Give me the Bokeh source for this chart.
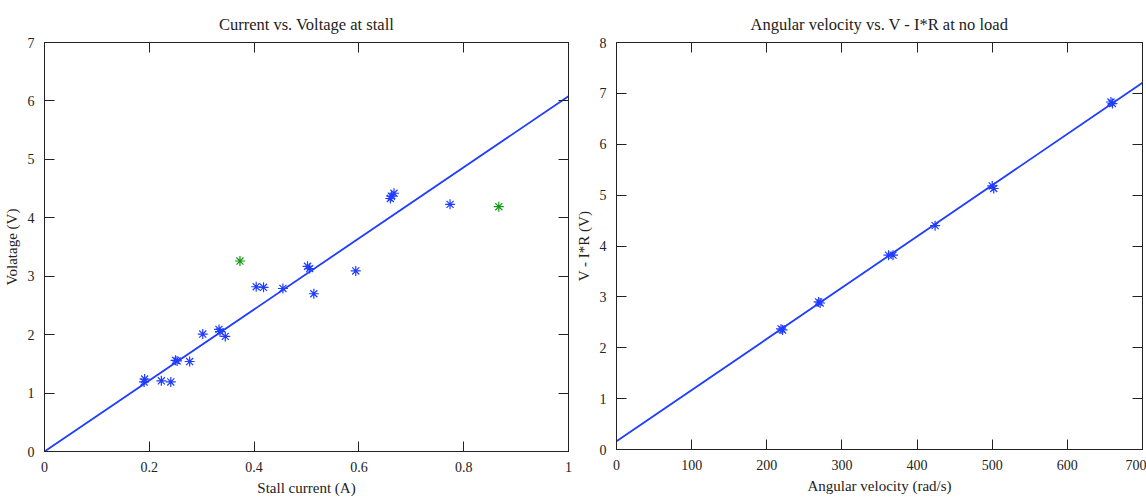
from bokeh.plotting import figure
from bokeh.layouts import row
from bokeh.models import LinearAxis, SingleIntervalTicker, CustomJSTickFormatter, Range1d
from bokeh.embed import file_html
from bokeh.resources import INLINE
import numpy as np

# ---- Data: left chart (stall) ----
stall_current_blue = [0.190, 0.191, 0.223, 0.241, 0.250, 0.253, 0.277, 0.302, 0.333, 0.335,
                      0.345, 0.404, 0.418, 0.455, 0.502, 0.506, 0.514, 0.594, 0.660, 0.662,
                      0.667, 0.774]
stall_voltage_blue = [1.19, 1.24, 1.21, 1.19, 1.56, 1.55, 1.54, 2.01, 2.09, 2.05,
                      1.97, 2.82, 2.81, 2.79, 3.17, 3.13, 2.70, 3.09, 4.33, 4.37,
                      4.42, 4.23]
stall_current_green = [0.373, 0.867]
stall_voltage_green = [3.26, 4.19]
stall_fit_slope = 6.08
stall_fit_intercept = 0.0

# ---- Data: right chart (no load) ----
ang_velocity = [219, 221, 269, 271, 362, 368, 424, 500, 502, 658, 660]
v_minus_ir = [2.37, 2.35, 2.90, 2.88, 3.82, 3.82, 4.40, 5.18, 5.13, 6.83, 6.80]
noload_fit_slope = 0.01007
noload_fit_intercept = 0.16

FONT = "Liberation Serif"
TXT = "#222222"
BLUE = "#1f3cff"
GREEN = "#129a12"

fmt = CustomJSTickFormatter(code="return (Math.round(tick*10)/10).toString();")
blank_fmt = CustomJSTickFormatter(code="return '';")


def style(p, xint, yint):
    p.title.text_font = FONT
    p.title.text_font_style = "normal"
    p.title.text_font_size = "16.5px"
    p.title.align = "center"
    p.title.text_color = TXT
    p.outline_line_color = "#222222"
    p.grid.visible = False
    p.background_fill_color = "white"
    p.border_fill_color = "white"
    for ax in p.xaxis:
        ax.ticker = SingleIntervalTicker(interval=xint)
        ax.formatter = fmt
    for ax in p.yaxis:
        ax.ticker = SingleIntervalTicker(interval=yint)
        ax.formatter = fmt
    ax2x = LinearAxis(ticker=SingleIntervalTicker(interval=xint), formatter=blank_fmt)
    ax2y = LinearAxis(ticker=SingleIntervalTicker(interval=yint), formatter=blank_fmt)
    p.add_layout(ax2x, "above")
    p.add_layout(ax2y, "right")
    for ax in p.axis:
        ax.axis_line_color = "#222222"
        ax.major_tick_line_color = "#222222"
        ax.major_tick_in = 10
        ax.major_tick_out = 0
        ax.minor_tick_line_color = None
        ax.major_label_text_font = FONT
        ax.major_label_text_font_size = "14px"
        ax.major_label_text_color = TXT
        ax.major_label_standoff = 6
        ax.axis_label_text_font = FONT
        ax.axis_label_text_font_size = "15px"
        ax.axis_label_text_font_style = "normal"
        ax.axis_label_text_color = TXT
        ax.axis_label_standoff = 5
    for ax in (ax2x, ax2y):
        ax.major_label_text_color = None
        ax.major_label_standoff = 0


# ---- Left figure ----
p1 = figure(width=572, height=498, output_backend="svg", toolbar_location=None,
            title="Current vs. Voltage at stall",
            x_range=Range1d(0, 1), y_range=Range1d(0, 7),
            min_border_left=38, min_border_right=4, min_border_top=42, min_border_bottom=47)
p1.xaxis.axis_label = "Stall current (A)"
p1.yaxis.axis_label = "Volatage (V)"
style(p1, 0.2, 1)
xs1 = np.array([0.0, 1.0])
p1.line(xs1, stall_fit_slope * xs1 + stall_fit_intercept, line_color=BLUE, line_width=1.8)
p1.scatter(stall_current_blue, stall_voltage_blue, marker="asterisk", size=10,
           line_color=BLUE, line_width=1.2)
p1.scatter(stall_current_green, stall_voltage_green, marker="asterisk", size=10,
           line_color=GREEN, line_width=1.2)

# ---- Right figure ----
p2 = figure(width=574, height=496, output_backend="svg", toolbar_location=None,
            title="Angular velocity vs. V - I*R at no load",
            x_range=Range1d(0, 700), y_range=Range1d(0, 8),
            min_border_left=37, min_border_right=2, min_border_top=40, min_border_bottom=47)
p2.xaxis.axis_label = "Angular velocity (rad/s)"
p2.yaxis.axis_label = "V - I*R (V)"
style(p2, 100, 1)
xs2 = np.array([0.0, 700.0])
p2.line(xs2, noload_fit_slope * xs2 + noload_fit_intercept, line_color=BLUE, line_width=1.8)
p2.scatter(ang_velocity, v_minus_ir, marker="asterisk", size=10,
           line_color=BLUE, line_width=1.2)

layout = row(p1, p2)
open("out.html", "w").write(file_html(layout, INLINE))
